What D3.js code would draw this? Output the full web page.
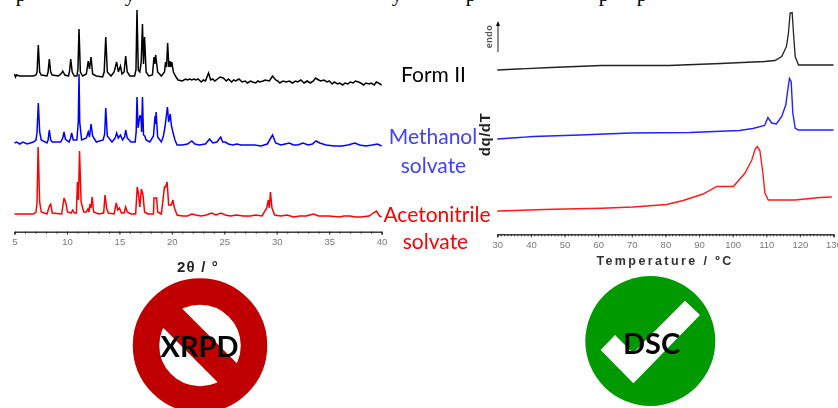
<!DOCTYPE html>
<html>
<head>
<meta charset="utf-8">
<style>html,body{margin:0;padding:0;background:#fff;overflow:hidden}svg{display:block}</style>
<script src="https://cdnjs.cloudflare.com/ajax/libs/d3/7.8.5/d3.min.js"></script>
</head>
<body>
<script>
// XRPD traces: 2-theta (deg) and intensity (a.u.)
const formIITheta = [5,5.1,5.2,5.5,5.8,6.2,6.8,7.05,7.15,7.27,7.4,7.55,8.1,8.2,8.32,8.45,8.6,9.2,9.5,9.6,9.8,10.15,10.25,10.36,10.5,10.7,10.95,11.05,11.15,11.28,11.5,11.85,12.03,12.15,12.3,12.45,12.8,13.4,13.55,13.7,13.85,14.2,14.5,14.74,14.9,15.1,15.25,15.45,15.6,15.75,16,16.45,16.58,16.68,16.8,16.95,17.08,17.2,17.3,17.4,17.55,17.8,18.15,18.3,18.38,18.46,18.65,19,19.3,19.4,19.5,19.6,19.72,19.82,19.9,20,20.15,20.4,20.6,21,21.3,21.5,21.7,21.9,22.1,22.3,22.5,22.8,23,23.2,23.5,23.7,23.9,24.1,24.35,24.6,24.9,25.2,25.4,25.7,25.9,26.1,26.4,26.7,27,27.2,27.5,27.7,28,28.2,28.4,28.7,28.9,29.3,29.6,29.9,30.1,30.3,30.6,30.9,31.2,31.5,31.8,32,32.3,32.6,32.9,33.2,33.5,33.7,34,34.2,34.5,34.8,35,35.3,35.5,35.8,36,36.3,36.5,36.8,37,37.3,37.5,37.8,38,38.3,38.5,38.8,39,39.3,39.5,39.7,40];
const formIIInt = [158,155,157,156,156,156,156,157,160,187,160,157,156,160,173,160,157,156,159,161,157,156,161,173,160,156,156,163,203,160,156,158,171,163,175,158,156,155,160,195,160,156,160,170,160,166,158,160,176,160,156,156,162,222,162,160,170,208,168,195,160,156,157,175,168,177,160,156,160,170,165,189,165,171,165,170,160,155,152,151,153,152,153,152,153,152,153,150,152,151,159,152,153,151,153,155,154,151,153,150,152,151,153,150,151,149,151,150,149,151,150,151,152,151,156,152,151,149,151,150,151,149,151,150,152,149,151,149,151,154,152,151,152,150,151,148,150,148,149,147,149,148,150,149,151,150,149,147,149,148,149,147,150,149,147];
const methanolTheta = [5,5.2,5.5,5.8,6.2,6.8,7.05,7.15,7.27,7.4,7.55,8.1,8.2,8.32,8.45,8.6,9.4,9.6,9.72,9.85,10.2,10.35,10.45,10.6,10.95,11.08,11.15,11.22,11.4,11.85,12.03,12.15,12.3,12.45,12.8,13.45,13.6,13.7,13.85,14.3,14.6,14.74,14.9,15.1,15.3,15.5,15.6,15.75,16.1,16.5,16.6,16.68,16.78,16.95,17.05,17.12,17.2,17.3,17.42,17.55,17.9,18.25,18.4,18.45,18.5,18.65,19,19.2,19.35,19.58,19.7,19.85,19.95,20.1,20.3,20.5,21,21.5,21.9,22.2,22.6,23.2,23.6,23.9,24.3,24.66,24.85,25.07,25.4,25.8,26.2,26.6,27.2,27.9,28.5,29.1,29.6,29.9,30.4,30.8,31.2,31.6,32,32.5,33,33.4,33.75,34.1,34.7,35.5,36.2,36.8,37.45,37.9,38.5,39.1,39.6,40];
const methanolInt = [89,90,88,90,88,90,92,100,129,100,92,89,92,102,92,90,90,94,100,93,90,94,99,92,92,110,158,110,92,94,100,95,108,96,90,92,98,124,96,90,94,99,94,97,92,95,102,94,90,90,100,135,104,116,116,100,135,97,96,92,90,96,116,108,120,95,90,96,105,125,110,118,107,100,92,87,87,88,91,88,87,88,93,89,90,95,90,90,88,87,88,87,87,87,86,88,97,89,87,88,89,87,87,89,87,88,91,89,87,86,86,87,89,87,86,87,88,86];
const acetonitrileTheta = [5,5.6,6.2,6.8,7.05,7.15,7.25,7.4,7.55,8.1,8.3,8.38,8.45,8.6,9.5,9.72,9.9,10.05,10.4,10.55,10.7,10.9,11,11.1,11.2,11.35,11.6,11.85,12,12.1,12.2,12.3,12.4,12.55,13,13.5,13.63,13.8,13.95,14.5,14.7,14.85,15,15.2,15.45,15.6,15.75,16.1,16.55,16.7,16.8,16.95,17.1,17.25,17.4,17.7,18.25,18.3,18.55,18.65,19,19.3,19.4,19.55,19.7,19.75,19.95,20.1,20.25,20.5,21,21.5,21.9,22.3,22.8,23.3,23.8,24.2,24.7,25.1,25.6,26.2,26.8,27.5,28,28.6,29.05,29.2,29.3,29.4,29.55,29.8,30.4,31,31.6,32.2,32.8,33.5,34,35,36,36.4,37,37.5,38,38.8,39.2,39.5,39.8,40];
const acetonitrileInt = [18,18,18,18,20,30,85,30,20,18,25,27,28,19,18,34,29,20,19,22,19,19,50,32,81,30,20,20,23,20,28,24,35,20,18,19,37,23,19,18,29,22,24,19,19,25,20,18,18,45,40,25,43,37,20,18,18,34,34,20,18,45,45,50,27,27,27,32,24,17,16,16,18,17,16,17,19,17,19,17,16,17,16,16,17,16,24,32,24,40,24,17,16,17,15,16,16,18,16,16,15,16,16,15,15,16,19,21,16,15];
const xrpdTicks = [5,10,15,20,25,30,35,40];
const xrpdMinor = d3.range(5,41,1);

// DSC traces: temperature (deg C) and heat flow (a.u.)
const dscFormIITemp = [30,36,46,61,81,96.4,109.5,112.6,114.6,116,116.6,117.1,117.7,118.1,118.6,119.6,130];
const dscFormIIFlow = [162,163,164.5,166.5,166.5,168.5,170.5,171.5,175.5,185.5,199,219,219.5,199,175.5,167,167];
const dscMethanolTemp = [30,40.7,54.6,69.5,87.3,102,106,109.5,110.5,111.6,113,114.6,115.8,116.4,116.9,117.4,117.9,118.6,119.5,130];
const dscMethanolFlow = [93,95.5,97,99,99.5,101.5,103.5,106.5,114.5,109,108,115.5,127,142,153.5,150.5,119,104,102,102];
const dscAcetonitrileTemp = [30,46.6,61,70.4,80.4,85.3,91.2,95.3,98.2,100.2,103.7,105.7,106.7,107.3,108.1,109,109.6,110.6,118.6,126,129.5];
const dscAcetonitrileFlow = [21,22.7,23.7,25,27.5,31.5,38,45.5,45.5,45.5,59,72,83,85.5,81.5,59,39,32,32,34.5,35];
const dscTicks = [30,40,50,60,70,80,90,100,110,120,130];
const dscMinor = d3.range(30,131,1);

const xrpdLabels = [
  {t:"Form II", cx:433.5, y:82, c:"#000"},
  {t:"Methanol", cx:433, y:144, c:"#4040ff"},
  {t:"solvate", cx:433.5, y:173, c:"#4040ff"},
  {t:"Acetonitrile", cx:437, y:222, c:"#ff0000"},
  {t:"solvate", cx:435.5, y:249, c:"#ff0000"}
];
const clippedLetters = [["p",21],["y",130],["y",397],["p",471],["p",604],["p",642]];

const svg = d3.select("body").append("svg").attr("width",838).attr("height",408);
const defs = svg.append("defs");
defs.append("filter").attr("id","soft").attr("x","-5%").attr("y","-5%").attr("width","110%").attr("height","110%")
  .append("feGaussianBlur").attr("stdDeviation",0.4);

// clipped first line of the surrounding page
svg.append("g").selectAll("text").data(clippedLetters).join("text")
  .attr("x",d=>d[1]).attr("y",0.5).attr("text-anchor","middle")
  .attr("font-family","Liberation Serif").attr("font-size",21).attr("fill","#000").text(d=>d[0]);

const plots = svg.append("g").attr("filter","url(#soft)");
const xX = d3.scaleLinear().domain([5,40]).range([14.5,381.6]);
const yX = d3.scaleLinear().domain([0,232]).range([232,0]);
const xD = d3.scaleLinear().domain([30,130]).range([497.3,833.5]);
const yD = d3.scaleLinear().domain([0,232]).range([232,0]);

function trace(x,y,xs,ys,color,w){
  const line = d3.line().x((d,i)=>x(xs[i])).y((d,i)=>y(ys[i]));
  plots.append("path").attr("d",line(xs)).attr("fill","none").attr("stroke",color)
    .attr("stroke-width",w).attr("stroke-linejoin","miter");
}
trace(xX,yX,formIITheta,formIIInt,"#000",1.5);
trace(xX,yX,methanolTheta,methanolInt,"#0000ff",1.5);
trace(xX,yX,acetonitrileTheta,acetonitrileInt,"#ff0000",1.5);
trace(xD,yD,dscFormIITemp,dscFormIIFlow,"#222",1.3);
trace(xD,yD,dscMethanolTemp,dscMethanolFlow,"#2020ff",1.4);
trace(xD,yD,dscAcetonitrileTemp,dscAcetonitrileFlow,"#ff1a1a",1.4);

function axis(x,yPos,ticks,minor,sizeMajor,sizeMinor,fs){
  const gm = plots.append("g").attr("transform",`translate(0,${yPos})`)
    .call(d3.axisBottom(x).tickValues(minor).tickSize(sizeMinor).tickFormat(""));
  const g = plots.append("g").attr("transform",`translate(0,${yPos})`)
    .call(d3.axisBottom(x).tickValues(ticks).tickSize(sizeMajor).tickPadding(3.5));
  [gm,g].forEach(s=>{s.selectAll("path,line").attr("stroke","#222").attr("stroke-width",0.9);});
  g.selectAll("text").attr("font-family","Liberation Sans").attr("font-size",fs).attr("fill","#777");
}
axis(xX,231.7,xrpdTicks,xrpdMinor,3,2,9.5);
axis(xD,234.3,dscTicks,dscMinor,3,2,9.5);

const boldText = (t,x,y,fs,ls,fill,rot) => {
  const s = plots.append("text").attr("font-family","Liberation Sans").attr("font-weight","bold")
    .attr("font-size",fs).attr("letter-spacing",ls).attr("fill",fill).attr("text-anchor","middle").text(t);
  s.attr("transform",`translate(${x},${y})`+(rot?` rotate(${rot})`:""));
};
boldText("2θ / °",198,272,15,1.2,"#222");
boldText("Temperature / ºC",665,264.5,12.5,2.4,"#333");
boldText("dq/dT",490,134.5,15,0.5,"#222",-90);
boldText("endo",492,36.5,9,0.5,"#555",-90);

// endo arrow
const ay = plots.append("g");
ay.append("line").attr("x1",498).attr("x2",498).attr("y1",52).attr("y2",24).attr("stroke","#222").attr("stroke-width",1);
ay.append("path").attr("d","M498,21L496,26L500,26Z").attr("fill","#000");

svg.append("g").selectAll("text").data(xrpdLabels).join("text")
  .attr("x",d=>d.cx).attr("y",d=>d.y).attr("text-anchor","middle")
  .attr("font-family","Lato").attr("font-size",21).attr("fill",d=>d.c).text(d=>d.t);

// "no" sign
const no = svg.append("g");
const nc = {x:200,y:345.5};
no.append("circle").attr("cx",nc.x).attr("cy",nc.y).attr("r",54).attr("fill","#fff").attr("stroke","#c00000").attr("stroke-width",26.5);
no.append("line").attr("x1",nc.x-29).attr("y1",nc.y-29).attr("x2",nc.x+29).attr("y2",nc.y+29).attr("stroke","#c00000").attr("stroke-width",27);
no.append("text").attr("x",199.5).attr("y",357.3).attr("text-anchor","middle").attr("font-family","Lato").attr("font-weight","bold").attr("font-size",29).attr("fill","#000").text("XRPD");

// "check" sign
const ok = svg.append("g");
ok.append("circle").attr("cx",650.3).attr("cy",341).attr("r",65).attr("fill","#009900");
ok.append("path").attr("d","M685,300.7L700,315L633.3,383.3L600.7,350L615,335L633,353Z").attr("fill","#fff");
ok.append("text").attr("x",651.5).attr("y",354.3).attr("text-anchor","middle").attr("font-family","Lato").attr("font-weight","bold").attr("font-size",29).attr("fill","#000").text("DSC");
</script>
</body>
</html>
